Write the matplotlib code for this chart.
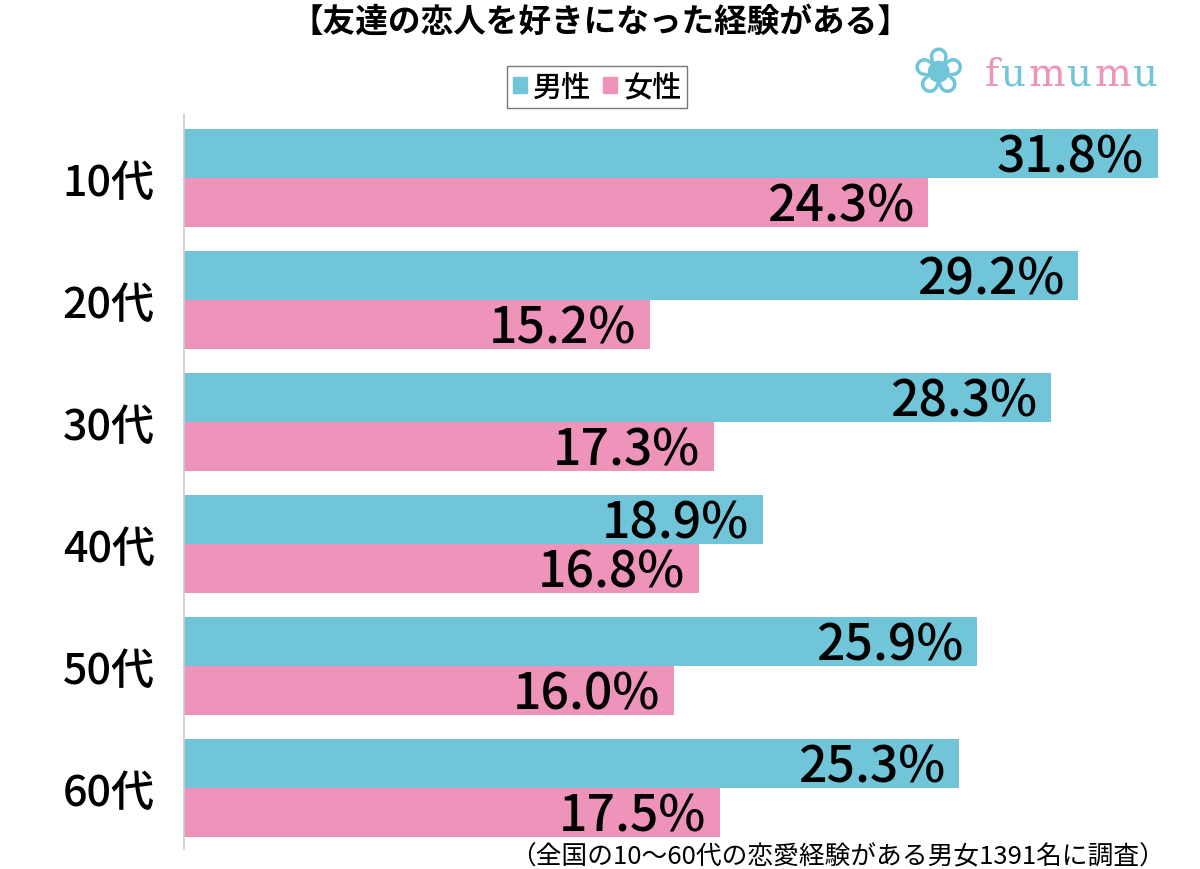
import matplotlib.pyplot as plt
import numpy as np
from matplotlib.patches import Patch

plt.rcParams['font.family'] = ['Noto Sans CJK JP', 'DejaVu Sans']

categories = ["10代", "20代", "30代", "40代", "50代", "60代"]
male = [31.8, 29.2, 28.3, 18.9, 25.9, 25.3]
female = [24.3, 15.2, 17.3, 16.8, 16.0, 17.5]
series_labels = ["男性", "女性"]
title = "【友達の恋人を好きになった経験がある】"
note = "（全国の10〜60代の恋愛経験がある男女1391名に調査）"

MALE_C = "#70c5d8"
FEMALE_C = "#ee93ba"

fig = plt.figure(figsize=(12, 8.7), dpi=100)
ax = fig.add_axes([184 / 1200, 20 / 870, 980 / 1200, 735 / 870])

y = np.arange(len(categories))
h = 0.4
ax.barh(y - h / 2, male, h, color=MALE_C)
ax.barh(y + h / 2, female, h, color=FEMALE_C)

for yi, m, f in zip(y, male, female):
    ax.text(m - 0.45, yi - h / 2 + 0.03, f"{m:.1f}%", ha="right", va="center",
            fontsize=36, fontweight="medium", color="black")
    ax.text(f - 0.45, yi + h / 2 + 0.03, f"{f:.1f}%", ha="right", va="center",
            fontsize=36, fontweight="medium", color="black")

ax.set_xlim(0, 32)
ax.set_ylim(len(categories) - 0.5, -0.525)
ax.set_yticks(y)
ax.set_yticklabels(categories, fontsize=31, fontweight="medium")
ax.tick_params(axis="y", length=0, pad=21)
ax.set_xticks([])
for s in ["top", "right", "bottom"]:
    ax.spines[s].set_visible(False)
ax.spines["left"].set_color("#cccccc")
ax.spines["left"].set_linewidth(1.2)

fig.text(600 / 1200, 1 - 22 / 870, title, ha="center", va="center",
         fontsize=23.5, fontweight="bold")

handles = [Patch(color=MALE_C), Patch(color=FEMALE_C)]
leg = fig.legend(handles, series_labels, loc="center", bbox_to_anchor=(597 / 1200, 1 - 88 / 870),
                 ncol=2, prop={"size": 21, "weight": "medium"}, frameon=True, fancybox=False,
                 edgecolor="#555555", handlelength=0.5, handleheight=0.5, handletextpad=0.2,
                 columnspacing=0.4, borderpad=0.2, borderaxespad=0)
leg.get_frame().set_linewidth(1.0)

# logo: letters placed one after another
fig.canvas.draw()
renderer = fig.canvas.get_renderer()
logo_c = [FEMALE_C, MALE_C]
xpos = 985
for i, ch in enumerate("fumumu"):
    t = fig.text(xpos / 1200, 1 - 75 / 870, ch, ha="left", va="center",
                 fontsize=28, family="DejaVu Serif", color=logo_c[i % 2])
    xpos += t.get_window_extent(renderer).width + 2
fig.text(938 / 1200, 1 - 75 / 870, "❀", ha="center", va="center",
         fontsize=46, family="DejaVu Sans", color=MALE_C)

fig.text(1165 / 1200, 1 - 857 / 870, note, ha="right", va="center", fontsize=18.5)

fig.savefig("out.png", dpi=100)
